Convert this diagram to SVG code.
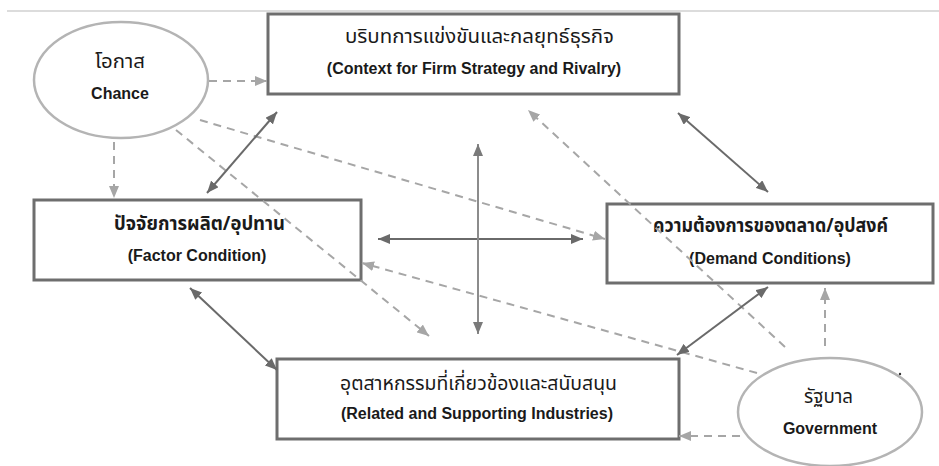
<svg xmlns="http://www.w3.org/2000/svg" width="939" height="466" viewBox="0 0 939 466">
<style>
.box{fill:#ffffff;stroke:#6e6e6e;stroke-width:3}
.oval{fill:#ffffff;stroke:#b4b4b4;stroke-width:2.5}
.th{font-family:"Noto Sans Thai","Noto Sans","DejaVu Sans","Liberation Sans",sans-serif;font-size:20px;fill:#1a1a1a}
.thb{font-weight:bold}
.en{font-family:"Liberation Sans",Arial,sans-serif;font-size:16px;font-weight:bold;fill:#1a1a1a;text-anchor:middle}
.dash{stroke:#a6a6a6;stroke-width:2;stroke-dasharray:8 6;fill:none;marker-end:url(#ad)}
.solid{stroke:#6a6a6a;stroke-width:2;fill:none;marker-start:url(#as);marker-end:url(#as)}
.solid2{stroke:#8c8c8c;stroke-width:2;fill:none;marker-start:url(#as2);marker-end:url(#as2)}
</style>
<defs>
<marker id="ad" markerUnits="userSpaceOnUse" viewBox="0 0 12 10" refX="12" refY="5" markerWidth="12" markerHeight="10" orient="auto-start-reverse"><path d="M0,0 L12,5 L0,10 z" fill="#a6a6a6"/></marker>
<marker id="as" markerUnits="userSpaceOnUse" viewBox="0 0 12 10" refX="12" refY="5" markerWidth="12" markerHeight="10" orient="auto-start-reverse"><path d="M0,0 L12,5 L0,10 z" fill="#6a6a6a"/></marker>
<marker id="as2" markerUnits="userSpaceOnUse" viewBox="0 0 12 10" refX="12" refY="5" markerWidth="12" markerHeight="10" orient="auto-start-reverse"><path d="M0,0 L12,5 L0,10 z" fill="#7a7a7a"/></marker>
</defs>
<rect width="939" height="466" fill="#ffffff"/>
<line x1="7" y1="11" x2="939" y2="11" stroke="#dcdcdc" stroke-width="2"/>

<g id="context">
<rect class="box" x="268" y="14" width="411" height="80"/>
<text class="th" x="345" y="43" textLength="269" lengthAdjust="spacingAndGlyphs">บริบทการแข่งขันและกลยุทธ์ธุรกิจ</text>
<text class="en" x="474" y="74">(Context for Firm Strategy and Rivalry)</text>
</g>
<g id="factor">
<rect class="box" x="34" y="200" width="327" height="80"/>
<text class="th thb" x="114" y="230" textLength="171" lengthAdjust="spacingAndGlyphs">ปัจจัยการผลิต/อุปทาน</text>
<text class="en" x="197" y="261">(Factor Condition)</text>
</g>
<g id="demand">
<rect class="box" x="607" y="204" width="326" height="79"/>
<text class="th thb" x="653" y="232" textLength="235" lengthAdjust="spacingAndGlyphs">ความต้องการของตลาด/อุปสงค์</text>
<text class="en" x="770" y="264">(Demand Conditions)</text>
</g>
<g id="related">
<rect class="box" x="277" y="359" width="402" height="80"/>
<text class="th" x="340" y="390" textLength="277" lengthAdjust="spacingAndGlyphs">อุตสาหกรรมที่เกี่ยวข้องและสนับสนุน</text>
<text class="en" x="477" y="419">(Related and Supporting Industries)</text>
</g>
<g id="chance">
<ellipse class="oval" cx="121" cy="80" rx="87" ry="58"/>
<text class="th" x="95" y="68" textLength="50" lengthAdjust="spacingAndGlyphs">โอกาส</text>
<text class="en" x="120" y="99">Chance</text>
</g>
<g id="government">
<ellipse class="oval" cx="830" cy="412" rx="92" ry="54"/>
<text class="th" x="804" y="403" textLength="49" lengthAdjust="spacingAndGlyphs">รัฐบาล</text>
<text class="en" x="830" y="434">Government</text>
</g>
<circle cx="900" cy="374" r="1.2" fill="#333333"/>

<g id="connectors">
<line class="dash" x1="209" y1="81" x2="267" y2="81"/>
<line class="dash" x1="114" y1="142" x2="114" y2="198"/>
<line class="dash" x1="200" y1="120" x2="605" y2="239"/>
<line class="dash" x1="176" y1="130" x2="429" y2="336"/>
<line class="dash" x1="785" y1="347" x2="528" y2="110"/>
<line class="dash" x1="757" y1="373" x2="362" y2="263"/>
<line class="dash" x1="825" y1="346" x2="825" y2="288"/>
<line class="dash" x1="740" y1="436" x2="679" y2="436"/>
<line class="solid" x1="277" y1="112" x2="207" y2="193"/>
<line class="solid" x1="678" y1="113" x2="768" y2="192"/>
<line class="solid" x1="378" y1="239" x2="583" y2="239"/>
<line class="solid2" x1="478" y1="144" x2="478" y2="334"/>
<line class="solid" x1="190" y1="288" x2="277" y2="370"/>
<line class="solid" x1="677" y1="355" x2="768" y2="287"/>
</g>
</svg>
